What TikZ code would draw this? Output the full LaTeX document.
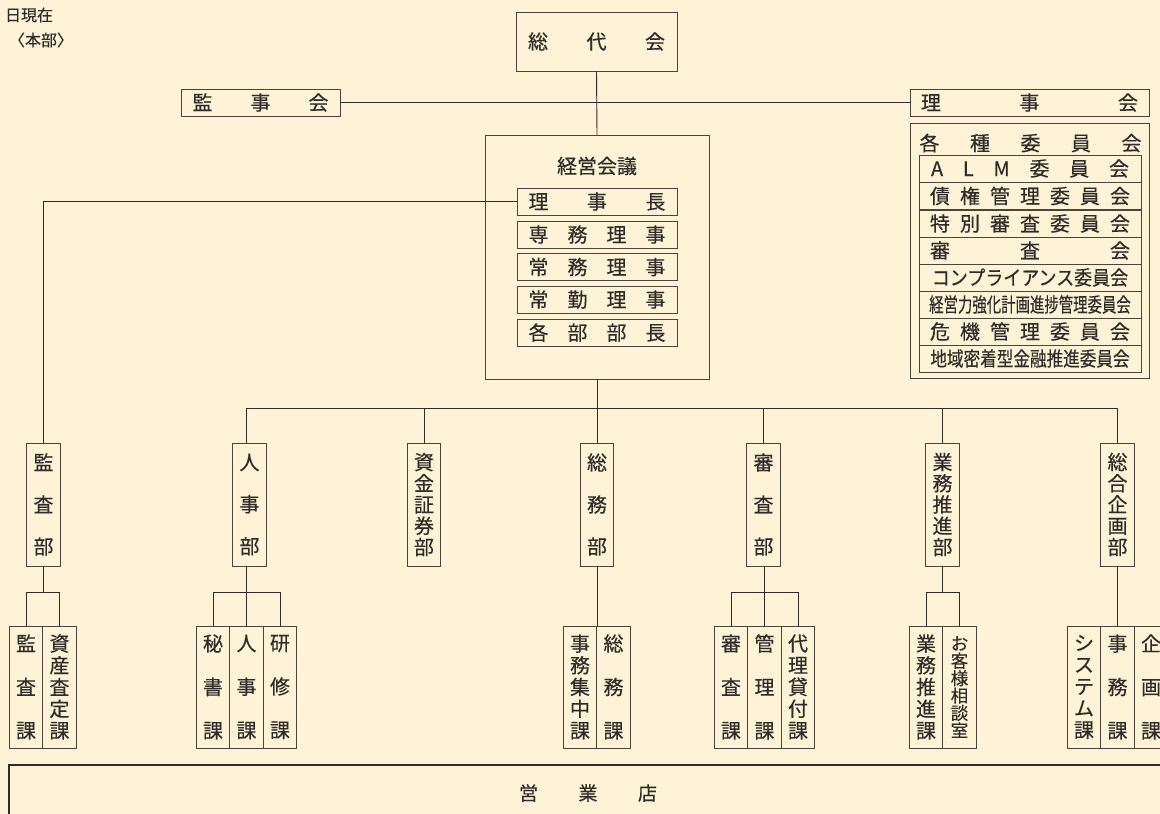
\documentclass[tikz,border=0pt]{standalone}
\usepackage{fontspec}
\setmainfont{Noto Sans CJK JP}[FakeBold=0.35]
\usepackage{graphicx}
\definecolor{bg}{HTML}{FEF3D6}
\definecolor{ln}{HTML}{2E2B28}
\definecolor{bx}{HTML}{4A443C}
\definecolor{tx}{HTML}{2E2B28}
\newcommand\spr[2]{\makebox[#1pt][s]{#2}}
\begin{document}
\begin{tikzpicture}[x=1pt,y=-1pt,
  every node/.style={text=tx, inner sep=0pt, outer sep=0pt},
  hb/.style={draw=bx, line width=1pt, font=\fontsize{20pt}{24pt}\selectfont},
  plain/.style={font=\fontsize{20pt}{24pt}\selectfont},
  vb/.style={draw=bx, line width=1pt, minimum width=33.4pt, align=center},
  dept/.style={vb, minimum height=123pt},
  sect/.style={vb, minimum height=122pt},
  vd3/.style={font=\fontsize{20pt}{42pt}\selectfont},
  vd5/.style={font=\fontsize{20pt}{21.25pt}\selectfont},
  vs3/.style={font=\fontsize{20pt}{43.5pt}\selectfont},
  vs5/.style={font=\fontsize{20pt}{21.75pt}\selectfont},
  vs6/.style={font=\fontsize{17.5pt}{17.4pt}\selectfont},
  conn/.style={draw=ln, line width=0.9pt},
  krow/.style={hb, minimum width=160pt, minimum height=27pt},
  irow/.style={hb, minimum width=222pt, minimum height=27pt}
]
\useasboundingbox (0,0) rectangle (1160,814);
\fill[bg] (0,0) rectangle (1160,814);
\clip (0,0) rectangle (1160,814);

% top-left note
\node[font=\fontsize{16pt}{19pt}\selectfont] (date) at (29,15) {日現在};
\node[font=\fontsize{16pt}{19pt}\selectfont] (honbu) at (41,40) {〈本部〉};

% top level
\node[hb, minimum width=161pt, minimum height=59pt] (soudai) at (596.5,41.5) {\spr{137}{総\hfill 代\hfill 会}};
\node[hb, minimum width=159pt, minimum height=27pt] (kanjikai) at (260.5,102.5) {\spr{136}{監\hfill 事\hfill 会}};
\node[hb, minimum width=239pt, minimum height=27pt] (rijikai) at (1029.5,102.5) {\spr{217}{理\hfill 事\hfill 会}};

% committees
\node[draw=bx, line width=1pt, minimum width=239pt, minimum height=255pt] (iinkai) at (1029.5,250.5) {};
\node[plain] (iinkaititle) at (1030.5,143) {\spr{222}{各\hfill 種\hfill 委\hfill 員\hfill 会}};
\node[irow] (alm) at (1030,168.5) {\spr{198}{A\hfill L\hfill M\hfill 委\hfill 員\hfill 会}};
\node[irow] (saiken) at (1030,196) {\spr{200}{債\hfill 権\hfill 管\hfill 理\hfill 委\hfill 員\hfill 会}};
\node[irow] (tokubetsu) at (1030,223.5) {\spr{200}{特\hfill 別\hfill 審\hfill 査\hfill 委\hfill 員\hfill 会}};
\node[irow] (shinsakai) at (1030,250.5) {\spr{200}{審\hfill 査\hfill 会}};
\node[irow] (compliance) at (1030,277.5) {\scalebox{0.9}[1]{コンプライアンス委員会}};
\node[irow] (keieiryoku) at (1030,304.5) {\scalebox{0.72}[1]{経営力強化計画進捗管理委員会}};
\node[irow] (kiki) at (1030,331.5) {\spr{200}{危\hfill 機\hfill 管\hfill 理\hfill 委\hfill 員\hfill 会}};
\node[irow] (chiiki) at (1030,358.5) {\scalebox{0.83}[1]{地域密着型金融推進委員会}};

% management meeting
\node[draw=bx, line width=1pt, minimum width=224pt, minimum height=244pt] (keiei) at (597,257) {};
\node[plain] (keieititle) at (597,166) {経営会議};
\node[krow] (richo) at (597,201.5) {\spr{137}{理\hfill 事\hfill 長}};
\node[krow] (senmu) at (597,234.5) {\spr{137}{専\hfill 務\hfill 理\hfill 事}};
\node[krow] (jomu) at (597,267) {\spr{137}{常\hfill 務\hfill 理\hfill 事}};
\node[krow] (jokin) at (597,299.5) {\spr{137}{常\hfill 勤\hfill 理\hfill 事}};
\node[krow] (bucho) at (597,332.5) {\spr{137}{各\hfill 部\hfill 部\hfill 長}};

% departments
\node[dept, vd3] (kansabu) at (43.5,504.5) {監\\査\\部};
\node[dept, vd3] (jinjibu) at (249.5,504.5) {人\\事\\部};
\node[dept, vd5] (shikinbu) at (424,504.5) {資\\金\\証\\券\\部};
\node[dept, vd3] (soumubu) at (597,504.5) {総\\務\\部};
\node[dept, vd3] (shinsabu) at (763.5,504.5) {審\\査\\部};
\node[dept, vd5] (gyoumubu) at (942.5,504.5) {業\\務\\推\\進\\部};
\node[dept, vd5] (kikakubu) at (1117.5,504.5) {総\\合\\企\\画\\部};

% sections
\node[sect, vs3] (kansaka) at (26,687) {監\\査\\課};
\node[sect, vs5] (shisanka) at (59.5,687) {資\\産\\査\\定\\課};
\node[sect, vs3] (hishoka) at (213,687) {秘\\書\\課};
\node[sect, vs3] (jinjika) at (246.5,687) {人\\事\\課};
\node[sect, vs3] (kenshuka) at (280,687) {研\\修\\課};
\node[sect, vs5] (jimushuchu) at (580,687) {事\\務\\集\\中\\課};
\node[sect, vs3] (soumuka) at (613.5,687) {総\\務\\課};
\node[sect, vs3] (shinsaka) at (731,687) {審\\査\\課};
\node[sect, vs3] (kanrika) at (764.5,687) {管\\理\\課};
\node[sect, vs5] (dairika) at (798,687) {代\\理\\貸\\付\\課};
\node[sect, vs5] (gyoumuka) at (926,687) {業\\務\\推\\進\\課};
\node[sect, vs6] (okyaku) at (959.5,687) {お\\客\\様\\相\\談\\室};
\node[sect, vs5] (systemka) at (1084,687) {シ\\ス\\テ\\ム\\課};
\node[sect, vs3] (jimuka) at (1117.5,687) {事\\務\\課};
\node[sect, vs3] (kikakuka) at (1151,687) {企\\画\\課};

% branches
\node[draw=ln, line width=1.8pt, minimum width=1158pt, minimum height=56pt, font=\fontsize{19pt}{22pt}\selectfont] (eigyo) at (588,793) {\spr{138}{営\hfill 業\hfill 店}};

% connectors
\coordinate (bus) at (597,408);
\coordinate (brk) at (0,592);
\draw[conn] (soudai.south) -- (keiei.north);
\draw[conn] (kanjikai.east) -- (rijikai.west);
\draw[conn] (keiei.south) -- (keiei.south |- bus);
\draw[conn] (jinjika.north |- bus) -- (kikakubu.north |- bus);
\draw[conn] (jinjika.north |- bus) -- (jinjika.north |- jinjibu.north);
\foreach \n in {shikinbu,soumubu,shinsabu,gyoumubu,kikakubu}
  \draw[conn] (\n.north |- bus) -- (\n.north);
\draw[conn] (richo.west) -| (kansabu.north);

\draw[conn] (kansabu.south) -- (kansabu.south |- brk);
\draw[conn] (kansaka.north) -- (kansaka.north |- brk) -- (shisanka.north |- brk) -- (shisanka.north);
\draw[conn] (jinjika.north |- jinjibu.south) -- (jinjika.north);
\draw[conn] (hishoka.north) -- (hishoka.north |- brk) -- (kenshuka.north |- brk) -- (kenshuka.north);
\draw[conn] (soumubu.south) -- (soumubu.south |- jimushuchu.north);
\draw[conn] (kanrika.north |- shinsabu.south) -- (kanrika.north);
\draw[conn] (shinsaka.north) -- (shinsaka.north |- brk) -- (dairika.north |- brk) -- (dairika.north);
\draw[conn] (gyoumubu.south) -- (gyoumubu.south |- brk);
\draw[conn] (gyoumuka.north) -- (gyoumuka.north |- brk) -- (okyaku.north |- brk) -- (okyaku.north);
\draw[conn] (kikakubu.south) -- (jimuka.north);
\end{tikzpicture}
\end{document}
